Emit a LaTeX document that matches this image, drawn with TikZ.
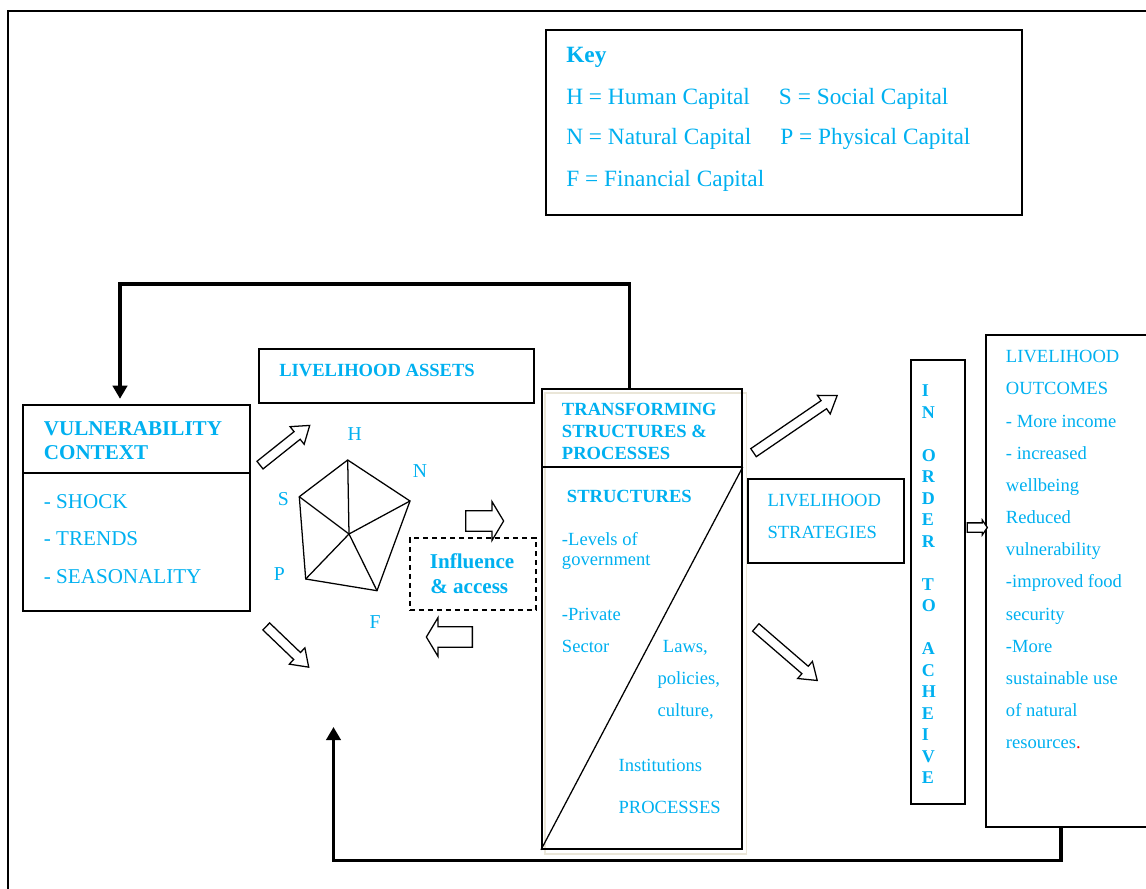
\documentclass[tikz,border=0pt]{standalone}
\usepackage{fontspec}
\setmainfont{Liberation Serif}
\usepackage{tikz}
\usetikzlibrary{arrows.meta, shapes.arrows, positioning, calc}
\definecolor{skyc}{RGB}{0,176,240}
\definecolor{paper}{RGB}{234,230,216}
\newcommand{\fkey}{\fontsize{16.6}{20}\selectfont}
\newcommand{\fbig}{\fontsize{15}{18}\selectfont}
\newcommand{\fmid}{\fontsize{13.2}{16}\selectfont}
\newcommand{\flbl}{\fontsize{14}{17}\selectfont}

\begin{document}
\begin{tikzpicture}[x=0.025cm, y=-0.025cm,
    box/.style={draw, line width=1.2pt, rectangle, inner sep=0pt, anchor=north west},
    txt/.style={text=skyc, inner sep=0pt, anchor=base west},
    feedback/.style={line width=2.3pt, -{Triangle[length=0.33cm, width=0.36cm]}},
    fat/.style={single arrow, draw, line width=0.9pt, fill=white, inner sep=0pt, anchor=tail},
    fatdiag/.style={fat, inner ysep=0.106cm, single arrow head extend=0.16cm, single arrow tip angle=70},
    fatflat/.style={fat, inner ysep=0.24cm, single arrow head extend=0.225cm, single arrow tip angle=118}]
    \useasboundingbox (0,0) rectangle (1146,889);
    \clip (0,0) rectangle (1146,889);

    % Frame
    \draw[line width=1.4pt] (8,895) -- (8,11) -- (1150,11);

    % Key
    \node[box, minimum width=11.9cm, minimum height=4.625cm] (key) at (545,29) {};
    \node[txt, font=\fkey\bfseries] (keyt) at (566,62.3) {Key};
    \node[txt, font=\fkey] (keyH) at (566,104) {H = Human Capital};
    \node[txt, font=\fkey] (keyS) at (778.7,104) {S = Social Capital};
    \node[txt, font=\fkey] (keyN) at (566,144.5) {N = Natural Capital};
    \node[txt, font=\fkey] (keyP) at (780,144.5) {P = Physical Capital};
    \node[txt, font=\fkey] (keyF) at (566,186) {F = Financial Capital};

    % Vulnerability context
    \node[box, minimum width=5.675cm, minimum height=5.15cm] (vuln) at (22,404) {};
    \draw[line width=0.9pt] (vuln.west |- 0,473) -- (vuln.east |- 0,473);
    \node[txt, font=\fbig\bfseries] (vul1) at (43.6,435) {VULNERABILITY};
    \node[txt, font=\fbig\bfseries] (vul2) at (43.6,459.3) {CONTEXT};
    \node[txt, font=\fbig] (shock) at (43.6,508.3) {- SHOCK};
    \node[txt, font=\fbig] (trend) at (43.6,545.3) {- TRENDS};
    \node[txt, font=\fbig] (season) at (43.6,583.3) {- SEASONALITY};

    % Livelihood assets
    \node[box, minimum width=6.875cm, minimum height=1.35cm] (assets) at (258,348) {};
    \node[txt, font=\fmid\bfseries] (assetst) at (279,376.7) {LIVELIHOOD ASSETS};

    % Asset pentagon
    \coordinate (pH) at (347.7,460);
    \coordinate (pN) at (410,501);
    \coordinate (pF) at (377,590.7);
    \coordinate (pP) at (305.7,579);
    \coordinate (pS) at (299.3,496.7);
    \coordinate (pC) at (349,534);
    \draw[line width=0.9pt] (pH) -- (pN) -- (pF) -- (pP) -- (pS) -- cycle;
    \foreach \v in {pH,pN,pF,pP,pS} \draw[line width=0.9pt] (pC) -- (\v);
    \node[txt, anchor=base, font=\flbl] (lH) at (354.7,440) {H};
    \node[txt, anchor=base, font=\flbl] (lN) at (420,477.7) {N};
    \node[txt, anchor=base, font=\flbl] (lS) at (283.3,505) {S};
    \node[txt, anchor=base, font=\flbl] (lP) at (279.3,580) {P};
    \node[txt, anchor=base, font=\flbl] (lF) at (375,628.3) {F};

    % Influence and access
    \node[box, dash pattern=on 3.6pt off 2.8pt, minimum width=3.15cm, minimum height=1.8cm] (infl) at (409,537) {};
    \node[txt, font=\fbig\bfseries] (infl1) at (429.6,568.3) {Influence};
    \node[txt, font=\fbig\bfseries] (infl2) at (430,593.3) {\& access};

    % Transforming structures and processes
    \draw[paper, line width=1pt] (545,393) rectangle (746.7,854);
    \node[box, minimum width=5cm, minimum height=11.5cm] (trans) at (541,388) {};
    \draw[line width=0.9pt] (trans.west |- 0,467) -- (743,467);
    \draw[line width=0.9pt] (trans.south west) -- (trans.east |- 0,467);
    \node[txt, font=\fmid\bfseries] (tr1) at (561.7,415.7) {TRANSFORMING};
    \node[txt, font=\fmid\bfseries] (tr2) at (561.7,437.7) {STRUCTURES \&};
    \node[txt, font=\fmid\bfseries] (tr3) at (561.7,459) {PROCESSES};
    \node[txt, font=\fmid\bfseries] (struct) at (566.7,502.3) {STRUCTURES};
    \node[txt, font=\fmid] (lev1) at (561.7,545.7) {-Levels of};
    \node[txt, font=\fmid] (lev2) at (561.7,565.5) {government};
    \node[txt, font=\fmid] (priv1) at (561.7,620) {-Private};
    \node[txt, font=\fmid] (priv2) at (561.7,652.3) {Sector};
    \node[txt, font=\fmid] (laws) at (662.7,652.3) {Laws,};
    \node[txt, font=\fmid] (pol) at (657.3,684) {policies,};
    \node[txt, font=\fmid] (cult) at (657.3,716) {culture,};
    \node[txt, font=\fmid] (inst) at (618.3,771) {Institutions};
    \node[txt, font=\fmid] (proc) at (618.3,813.3) {PROCESSES};

    % Livelihood strategies
    \node[box, minimum width=3.9cm, minimum height=2.1cm] (strat) at (747,478) {};
    \node[txt, font=\fmid] (strat1) at (767.3,506.4) {LIVELIHOOD};
    \node[txt, font=\fmid] (strat2) at (767.3,538.4) {STRATEGIES};

    % In order to achieve
    \node[box, minimum width=1.35cm, minimum height=11.1cm] (order) at (910,359) {};
    \foreach \n/\ch in {0/I,1/N,3/O,4/R,5/D,6/E,7/R,9/T,10/O,12/A,13/C,14/H,15/E,16/I,17/V,18/E}
        \node[txt, font=\fontsize{12.8}{15}\selectfont\bfseries] (ord\n) at (921.7,396.6+21.5*\n) {\ch};

    % Livelihood outcomes
    \node[box, minimum width=4.1cm, minimum height=12.3cm] (outc) at (985,334) {};
    \foreach \t [count=\i from 0] in {LIVELIHOOD, OUTCOMES, - More income, - increased, wellbeing,
        Reduced, vulnerability, -improved food, security, -More, sustainable use, of natural,
        resources\textcolor{red}{.}}
        \node[txt, font=\fmid] (out\i) at (1005.7,362.8+32.17*\i) {\t};

    % Block arrows
    \node[fatdiag, minimum height=1.59cm, rotate=38.6] (a1) at (259.5,465.5) {};
    \node[fatdiag, minimum height=1.47cm, rotate=-43.8] (a2) at (265.8,626) {};
    \node[fatflat, minimum height=0.95cm] (a3) at (465,521) {};
    \node[fatflat, minimum height=1.15cm, rotate=180] (a4) at (473,637) {};
    \node[fatdiag, minimum height=2.53cm, rotate=34.3] (a5) at (753,453) {};
    \node[fatdiag, minimum height=2.03cm, rotate=-40.8] (a6) at (755.3,627) {};
    \node[fat, inner ysep=0.1cm, single arrow head extend=0.07cm, single arrow tip angle=112,
        minimum height=0.5cm] (a7) at (966.7,527.5) {};

    % Feedback loops
    \coordinate (topbend) at (120,284);
    \draw[feedback, shorten >=0.13cm] ([xshift=-0.3cm]trans.north) |- (topbend) -- (topbend |- vuln.north);
    \coordinate (botbend) at (333.5,860.7);
    \coordinate (botend) at (333.5,727);
    \draw[feedback] (outc.south -| 1061,0) |- (botbend) -- (botend);
\end{tikzpicture}
\end{document}
